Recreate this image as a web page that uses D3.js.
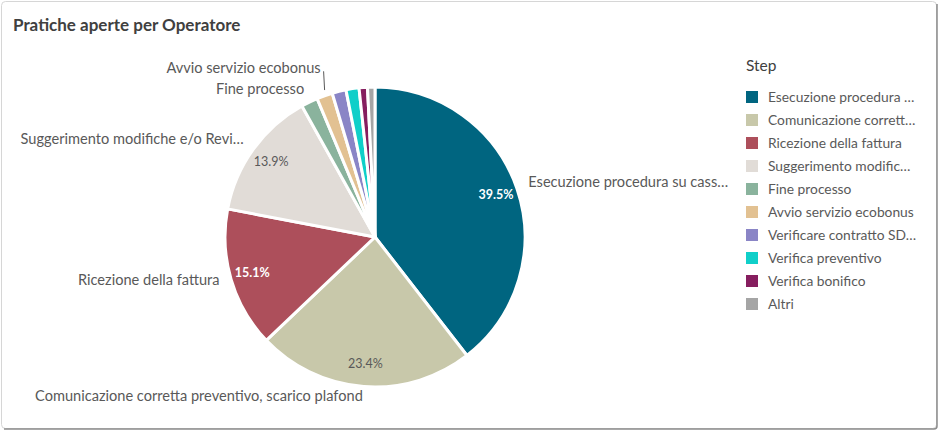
<!DOCTYPE html>
<html><head><meta charset="utf-8">
<script src="https://cdn.jsdelivr.net/npm/d3@7"></script>
<style>
html,body{margin:0;padding:0;background:#fff;}
svg{display:block;font-family:Lato,"Open Sans",sans-serif;}
</style></head>
<body><svg id="c" width="938" height="430"></svg>
<script>
const title = "Pratiche aperte per Operatore";
const legendTitle = "Step";
const categories = ["Esecuzione procedura su cassetto fiscale","Comunicazione corretta preventivo, scarico plafond","Ricezione della fattura","Suggerimento modifiche e/o Revisione preventivo","Fine processo","Avvio servizio ecobonus","Verificare contratto SDD","Verifica preventivo","Verifica bonifico","Altri"];
const labelTexts = ["Esecuzione procedura su cass…","Comunicazione corretta preventivo, scarico plafond","Ricezione della fattura","Suggerimento modifiche e/o Revi…","Fine processo","Avvio servizio ecobonus","","","",""];
const legendTexts = ["Esecuzione procedura …","Comunicazione corrett…","Ricezione della fattura","Suggerimento modific…","Fine processo","Avvio servizio ecobonus","Verificare contratto SD…","Verifica preventivo","Verifica bonifico","Altri"];
const values = [39.5,23.4,15.1,13.9,1.8,1.7,1.5,1.4,0.9,0.8];
const colors = ["#006580","#c8c8aa","#ad4f5b","#e1dcd7","#8ab39d","#e2c192","#8a85c6","#10cfc9","#861e5f","#a5a5a5"];
const darkSlices = [true,false,true,false,false,false,false,false,false,false];

const svg = d3.select("#c");
// card
svg.append("rect").attr("x",1.5).attr("y",1.5).attr("width",935).attr("height",427).attr("rx",4)
  .attr("fill","#fff").attr("stroke","#d6d6d6");
svg.append("path").attr("d","M937,4 L937,426 Q937,429 934,429 L4,429").attr("fill","none").attr("stroke","#8c8c8c").attr("stroke-width",1.5);

svg.append("text").attr("x",13).attr("y",31).attr("font-size",17).attr("font-weight",700)
  .attr("fill","#404040").text(title);

const cx = 375, cy = 237, R = 150;
const g = svg.append("g").attr("transform",`translate(${cx},${cy})`);
const pie = d3.pie().value(d=>d.v).sort(null);
const data = values.map((v,i)=>({v,i}));
const arcs = pie(data);
const arc = d3.arc().innerRadius(0).outerRadius(R);
g.selectAll("path.s").data(arcs).join("path").attr("class","s")
  .attr("d",arc).attr("fill",d=>colors[d.data.i]).attr("stroke","#fff").attr("stroke-width",3).attr("stroke-linejoin","round");

// percent labels
const inArc = d3.arc().innerRadius(128).outerRadius(128);
g.selectAll("text.p").data(arcs.filter(d=>d.data.v>=10)).join("text").attr("class","p")
  .attr("transform",d=>`translate(${inArc.centroid(d)})`)
  .attr("text-anchor","middle").attr("dy","0.3em").attr("font-size",12.5)
  .attr("font-weight",d=>darkSlices[d.data.i]?700:400)
  .attr("fill",d=>darkSlices[d.data.i]?"#fff":"#595959")
  .text(d=>d.data.v.toFixed(1)+"%");

// outer labels with simple collision avoidance
const outR = 162;
let lastY = null;
arcs.forEach(d=>{
  const t = labelTexts[d.data.i];
  if(!t) return;
  const a = (d.startAngle+d.endAngle)/2;
  let x = Math.sin(a)*outR, y = -Math.cos(a)*outR;
  let shifted = false;
  if(a > Math.PI*1.5 && lastY !== null && y > lastY - 21){ y = lastY - 21; shifted = true; }
  if(a > Math.PI*1.5) lastY = y;
  const anchor = x < -5 ? "end" : (x > 5 ? "start" : "end");
  if(shifted){
    const ay = -Math.cos(a)*(R+6);
    g.append("line").attr("x1",x+4).attr("y1",ay).attr("x2",x+3).attr("y2",y+1)
      .attr("stroke","#595959").attr("stroke-width",1);
  }
  g.append("text").attr("x",x).attr("y",y).attr("dy","0.15em").attr("text-anchor",anchor)
    .attr("font-size",14.6).attr("fill","#595959").text(t);
});

// legend
svg.append("text").attr("x",746).attr("y",71).attr("font-size",15.5).attr("fill","#404040").text(legendTitle);
const lg = svg.append("g").attr("transform","translate(746,91)");
const ly = d3.scaleBand().domain(d3.range(categories.length)).range([0,230]);
const rows = lg.selectAll("g").data(categories).join("g").attr("transform",(d,i)=>`translate(0,${ly(i)})`);
rows.append("rect").attr("width",12).attr("height",12).attr("fill",(d,i)=>colors[i]);
rows.append("text").attr("x",22).attr("y",6).attr("dy","0.35em").attr("font-size",13.8).attr("fill","#595959").text((d,i)=>legendTexts[i]);
</script></body></html>
